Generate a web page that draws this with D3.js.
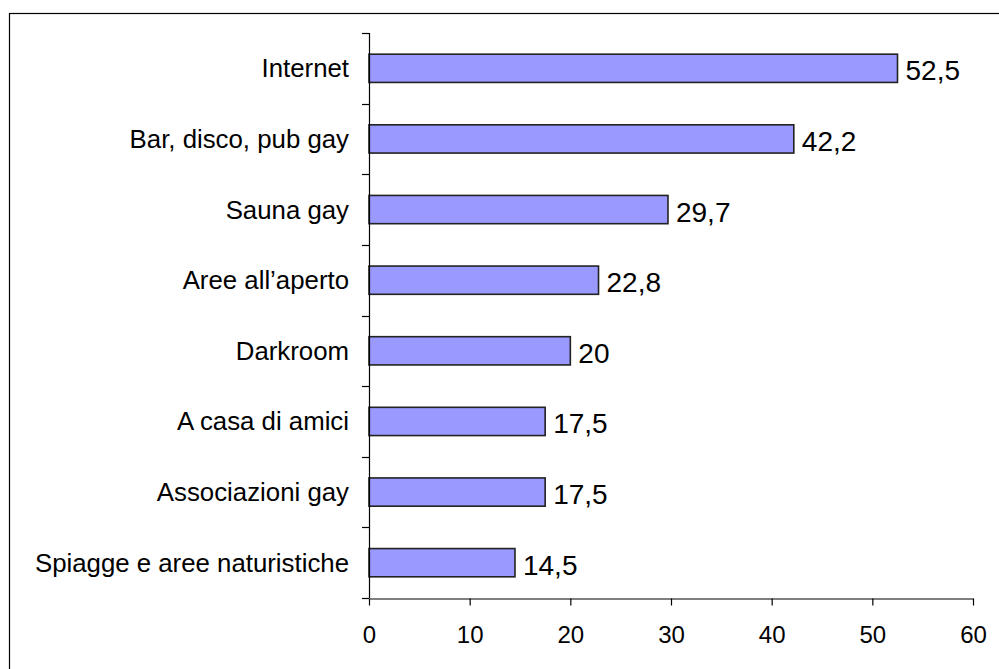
<!DOCTYPE html>
<html>
<head>
<meta charset="utf-8">
<script src="https://cdn.jsdelivr.net/npm/d3@7"></script>
<style>
    body { margin: 0; background: #fff; }
    svg { display: block; font-family: "Liberation Sans", Arial, sans-serif; }
</style>
</head>
<body>
<svg id="chart" width="999" height="669"></svg>
<script>
const categories = ["Internet", "Bar, disco, pub gay", "Sauna gay", "Aree all\u2019aperto",
    "Darkroom", "A casa di amici", "Associazioni gay", "Spiagge e aree naturistiche"];
const values = [52.5, 42.2, 29.7, 22.8, 20, 17.5, 17.5, 14.5];
const xTicks = [0, 10, 20, 30, 40, 50, 60];

const svg = d3.select("#chart");

// outer frame (only left and top edges fall inside the picture)
svg.append("rect")
    .attr("x", 9.5)
    .attr("y", 13.5)
    .attr("width", 1100)
    .attr("height", 800)
    .attr("fill", "none")
    .attr("stroke", "#000")
    .attr("stroke-width", 1.2);

const x = d3.scaleLinear().domain([0, 60]).range([369, 973]);
const y = d3.scaleBand().domain(categories).range([33, 598]).paddingInner(0.6).paddingOuter(0.3);

const fmt = v => String(v).replace(".", ",");

// bars
svg.selectAll(".bar")
    .data(values)
    .enter()
    .append("rect")
    .attr("class", "bar")
    .attr("x", x(0))
    .attr("y", (d, i) => y(categories[i]))
    .attr("width", d => x(d) - x(0))
    .attr("height", y.bandwidth())
    .attr("fill", "#9999FF")
    .attr("stroke", "#222")
    .attr("stroke-width", 1.6);

// value labels
svg.selectAll(".val")
    .data(values)
    .enter()
    .append("text")
    .attr("class", "val")
    .attr("x", d => x(d) + 8)
    .attr("y", (d, i) => y(categories[i]) + y.bandwidth() / 2 + 12)
    .attr("font-size", 28)
    .attr("fill", "#000")
    .text(d => fmt(d));

// y axis: line + ticks between bands
const yBoundaries = d3.range(categories.length + 1).map(i => 33 + i * (598 - 33) / categories.length);
svg.append("line")
    .attr("x1", x(0) + 0.5).attr("x2", x(0) + 0.5)
    .attr("y1", 33).attr("y2", 598)
    .attr("stroke", "#000").attr("stroke-width", 1.2);
svg.selectAll(".ytick")
    .data(yBoundaries)
    .enter()
    .append("line")
    .attr("class", "ytick")
    .attr("x1", x(0) - 7).attr("x2", x(0))
    .attr("y1", d => Math.round(d) + 0.5).attr("y2", d => Math.round(d) + 0.5)
    .attr("stroke", "#000").attr("stroke-width", 1.2);

svg.selectAll(".cat")
    .data(categories)
    .enter()
    .append("text")
    .attr("class", "cat")
    .attr("x", 349)
    .attr("y", d => y(d) + y.bandwidth() / 2 + 9)
    .attr("text-anchor", "end")
    .attr("font-size", 25.8)
    .attr("fill", "#000")
    .text(d => d);

// x axis
const xAxis = svg.append("g")
    .attr("transform", "translate(0,598.5)")
    .call(d3.axisBottom(x).tickValues(xTicks).tickSize(7).tickSizeOuter(0).tickPadding(20));
xAxis.select(".domain").attr("stroke", "#000").attr("stroke-width", 1.2);
xAxis.selectAll(".tick line").attr("stroke", "#000").attr("stroke-width", 1.2);
xAxis.selectAll(".tick text")
    .attr("font-size", 24)
    .attr("font-family", "Liberation Sans, Arial, sans-serif")
    .attr("fill", "#000");
</script>
</body>
</html>
